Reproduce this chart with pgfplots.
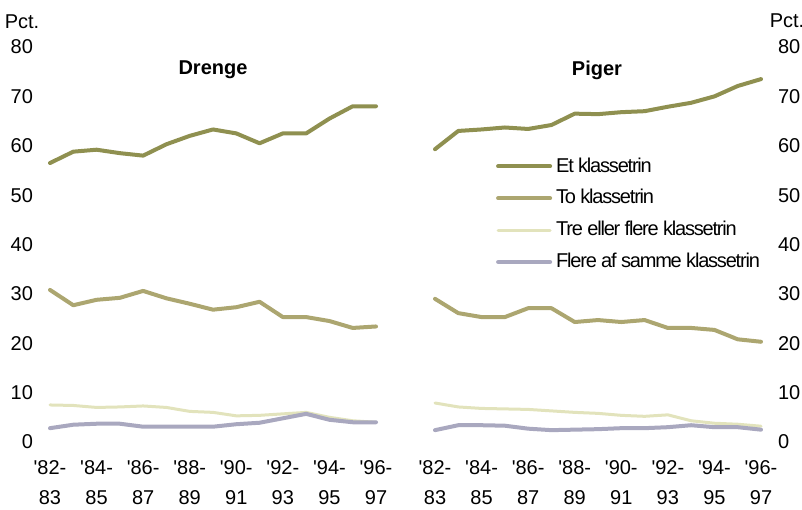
\documentclass[border=0pt]{standalone}
\usepackage{fontspec}
\setmainfont{Liberation Sans}
\newfontfamily\legfont[LetterSpace=-6]{Liberation Sans}
\usepackage{pgfplots}
\usepackage{pgfplotstable}
\pgfplotsset{compat=1.18}

\definecolor{etcol}{HTML}{8F9050}
\definecolor{tocol}{HTML}{ACA670}
\definecolor{trecol}{HTML}{E2E3BC}
\definecolor{flerecol}{HTML}{A9A8BF}

% x = school year index (0 = '82-83 ... 14 = '96-97)
\pgfplotstableread{
x  et    to    tre   flere
0  56.5  30.8  7.5   2.8
1  58.8  27.7  7.4   3.5
2  59.2  28.8  7.0   3.7
3  58.5  29.2  7.1   3.7
4  58.0  30.6  7.3   3.1
5  60.3  29.1  7.0   3.1
6  62.0  28.0  6.2   3.1
7  63.3  26.8  6.0   3.1
8  62.5  27.3  5.3   3.6
9  60.5  28.4  5.4   3.9
10 62.5  25.3  5.7   4.8
11 62.5  25.3  6.0   5.7
12 65.5  24.5  5.0   4.5
13 68.0  23.1  4.3   4.0
14 68.0  23.4  4.0   4.0
}\drenge

\pgfplotstableread{
x  et    to    tre   flere
0  59.3  29.0  7.9   2.4
1  63.0  26.1  7.1   3.4
2  63.3  25.3  6.8   3.4
3  63.7  25.3  6.7   3.3
4  63.4  27.1  6.6   2.7
5  64.2  27.1  6.3   2.4
6  66.5  24.3  6.0   2.5
7  66.4  24.7  5.8   2.6
8  66.8  24.3  5.4   2.8
9  67.0  24.7  5.2   2.8
10 67.9  23.1  5.5   3.0
11 68.7  23.1  4.3   3.4
12 70.0  22.7  3.8   3.0
13 72.1  20.8  3.6   3.0
14 73.5  20.3  3.2   2.5
}\piger

\pgfplotsset{
  panel/.style={
    scale only axis, width=163pt, height=197.5pt,
    xmin=0, xmax=14, ymin=0, ymax=80, clip=false,
    axis line style={draw=none}, major tick length=0pt,
    ytick={0,10,...,80}, xtick={0,2,...,14},
    xticklabels={{\textquotesingle 82-\\83},{\textquotesingle 84-\\85},{\textquotesingle 86-\\87},{\textquotesingle 88-\\89},{\textquotesingle 90-\\91},{\textquotesingle 92-\\93},{\textquotesingle 94-\\95},{\textquotesingle 96-\\97}},
    /pgf/number format/assume math mode=true,
    ticklabel style={font=\fontsize{10}{15}\selectfont},
    xticklabel style={align=center, yshift=-5.5pt},
    every axis plot/.append style={line join=round, line cap=round},
  },
  et/.style={etcol, line width=2pt},
  to/.style={tocol, line width=2pt},
  tre/.style={trecol, line width=1.5pt},
  flere/.style={flerecol, line width=2pt},
}

\begin{document}
\begin{tikzpicture}
\useasboundingbox (0,0) rectangle (401pt,254.5pt);

\begin{axis}[panel, at={(25pt,33.5pt)}, anchor=south west,
    yticklabel style={xshift=-5pt}]
  \addplot[et] table[x=x, y=et] {\drenge};
  \addplot[to] table[x=x, y=to] {\drenge};
  \addplot[tre] table[x=x, y=tre] {\drenge};
  \addplot[flere] table[x=x, y=flere] {\drenge};
\end{axis}

\begin{axis}[panel, at={(217.5pt,33.5pt)}, anchor=south west,
    yticklabel pos=right, yticklabel style={xshift=5pt},
    legend cell align=left,
    legend image code/.code={\draw[#1] (0pt,0pt) -- (26pt,0pt);},
    legend style={draw=none, fill=none, at={(axis cs:2.35,59.3)}, anchor=north west,
      font=\legfont\fontsize{10}{11}\selectfont, row sep=3.2pt}]
  \addplot[et] table[x=x, y=et] {\piger};
  \addplot[to] table[x=x, y=to] {\piger};
  \addplot[tre] table[x=x, y=tre] {\piger};
  \addplot[flere] table[x=x, y=flere] {\piger};
  \legend{Et klassetrin, To klassetrin, Tre eller flere klassetrin, Flere af samme klassetrin}
\end{axis}

\node[font=\fontsize{10}{12}\selectfont] at (11pt,243.5pt) {Pct.};
\node[font=\fontsize{10}{12}\selectfont] at (393.5pt,244pt) {Pct.};
\node[font=\fontsize{10}{12}\selectfont\bfseries] at (106.5pt,219.5pt) {Drenge};
\node[font=\fontsize{10}{12}\selectfont\bfseries] at (298.5pt,219.5pt) {Piger};
\end{tikzpicture}
\end{document}
